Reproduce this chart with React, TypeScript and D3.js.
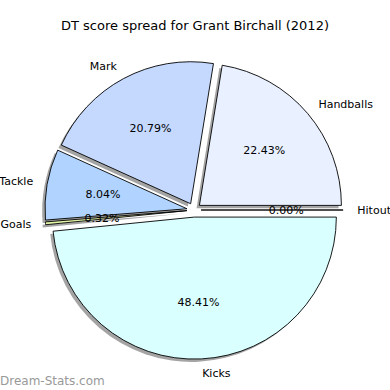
import React from 'react'
import * as d3 from 'd3'

// slices in matplotlib order (counter-clockwise from 3 o'clock)
const labels = ['Handballs', 'Mark', 'Tackle', 'Goals', 'Kicks', 'Hitout']
const shares = [22.43, 20.79, 8.04, 0.32, 48.41, 0.0]
const colors = ['#e9f0ff', '#c5d9ff', '#b0d4ff', '#e4f5a8', '#d9ffff', '#ffffff']

const W = 390
const H = 390
const cx = 194
const cy = 210
const R = 142
const explode = 0.05 * R
const shadowOff = 0.02 * R
const font = 'DejaVu Sans, sans-serif'

export default function App() {
    const pie = d3.pie<number>()
        .sort(null)
        .startAngle(Math.PI / 2)
        .endAngle(Math.PI / 2 - 2 * Math.PI)
    const arcs = pie(shares)
    const arc = d3.arc<d3.PieArcDatum<number>>().innerRadius(0).outerRadius(R)

    const slices = arcs.map((a, i) => {
        const mid = (a.startAngle + a.endAngle) / 2
        const dx = Math.sin(mid)
        const dy = -Math.cos(mid)
        return {
            a, i, dx, dy,
            ox: cx + explode * dx,
            oy: cy + explode * dy,
        }
    })

    return (
        <svg width={W} height={H} style={{ position: 'absolute', left: 0, top: 0, background: '#fff' }}>
            <text x={W / 2} y={25} textAnchor="middle" dominantBaseline="central"
                fontFamily={font} fontSize={13}>
                DT score spread for Grant Birchall (2012)
            </text>
            {/* shadows under everything */}
            {slices.map(s => (
                <path key={'sh' + s.i} d={arc(s.a) || ''}
                    transform={`translate(${s.ox - shadowOff},${s.oy + shadowOff})`}
                    fill="#4a4a4a" fillOpacity={0.5} stroke="none" />
            ))}
            {slices.map(s => (
                <path key={'w' + s.i} d={arc(s.a) || ''}
                    transform={`translate(${s.ox},${s.oy})`}
                    fill={colors[s.i]} stroke="#000" strokeWidth={0.9} strokeLinejoin="round" />
            ))}
            {slices.map(s => (
                <text key={'p' + s.i} x={s.ox + 0.6 * R * s.dx} y={s.oy + 0.6 * R * s.dy}
                    textAnchor="middle" dominantBaseline="central" fontFamily={font} fontSize={11}>
                    {shares[s.i].toFixed(2) + '%'}
                </text>
            ))}
            {slices.map(s => (
                <text key={'l' + s.i} x={s.ox + 1.1 * R * s.dx} y={s.oy + 1.1 * R * s.dy}
                    textAnchor={s.dx >= 0 ? 'start' : 'end'} dominantBaseline="central"
                    fontFamily={font} fontSize={11}>
                    {labels[s.i]}
                </text>
            ))}
            <text x={0} y={385} fontFamily={font} fontSize={12} fill="#999">Dream-Stats.com</text>
        </svg>
    )
}
